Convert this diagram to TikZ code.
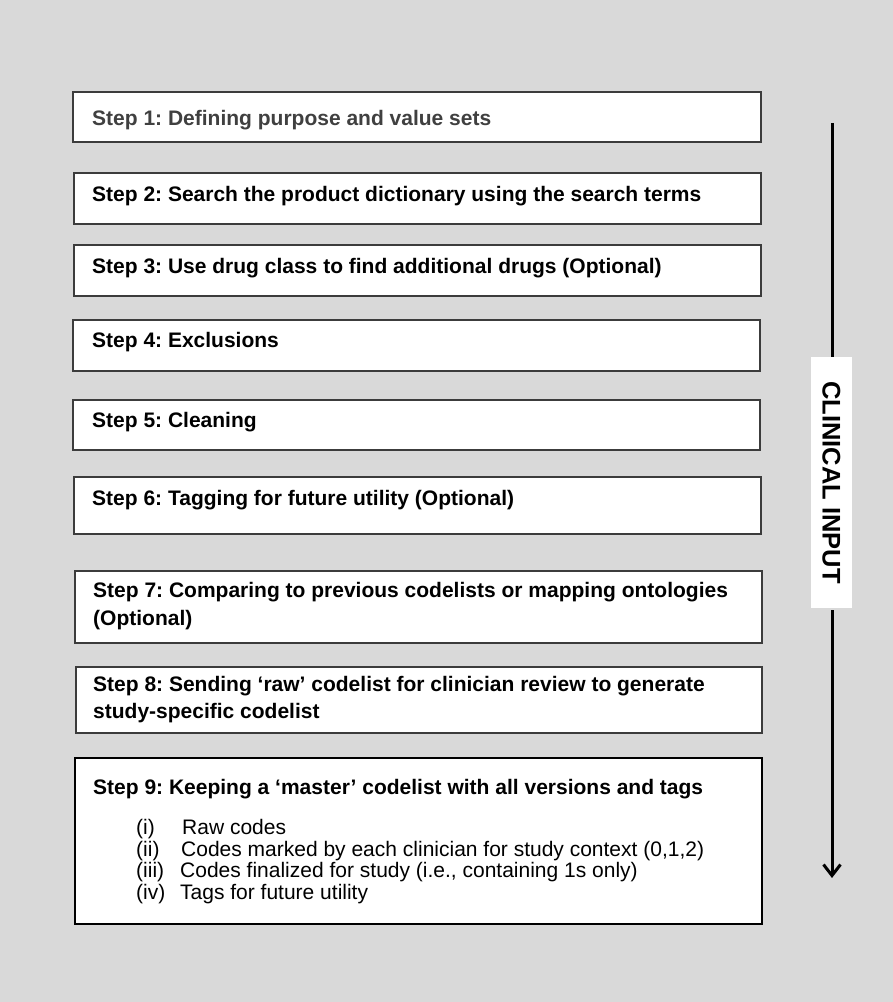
\documentclass[tikz,border=0pt]{standalone}
\usepackage{fontspec}
\setmainfont{Liberation Sans}
\usetikzlibrary{arrows.meta}
\definecolor{bg}{RGB}{217,217,217}
\definecolor{boxline}{RGB}{60,60,60}
\definecolor{greytext}{RGB}{64,64,64}
\tikzset{
  stepbox/.style={draw=boxline, line width=1.3pt, fill=white, inner sep=0pt, outer sep=0pt},
  steptext/.style={anchor=base west, inner sep=0pt, font=\fontsize{21}{25}\selectfont\bfseries},
  itemtext/.style={anchor=base west, inner sep=0pt, font=\fontsize{21}{25}\selectfont},
  flowline/.style={line width=3pt, black}
}
\frenchspacing
\begin{document}
\begin{tikzpicture}[x=1pt,y=1pt]
\useasboundingbox (0,0) rectangle (893,1002);
\fill[bg] (0,0) rectangle (893,1002);
% boxes
\node[stepbox, minimum width=688, minimum height=50, anchor=south west] (b1) at (73,860) {};
\node[stepbox, minimum width=687, minimum height=51, anchor=south west] (b2) at (74,778) {};
\node[stepbox, minimum width=687, minimum height=51, anchor=south west] (b3) at (74,706) {};
\node[stepbox, minimum width=687, minimum height=51, anchor=south west] (b4) at (73,631) {};
\node[stepbox, minimum width=687, minimum height=50, anchor=south west] (b5) at (73,552) {};
\node[stepbox, minimum width=687, minimum height=57, anchor=south west] (b6) at (74,468) {};
\node[stepbox, minimum width=687, minimum height=72, anchor=south west] (b7) at (75,359) {};
\node[stepbox, minimum width=686, minimum height=66, anchor=south west] (b8) at (76,269) {};
\node[stepbox, minimum width=687, minimum height=166, anchor=south west, draw=black] (b9) at (75,78) {};
% step texts
\node[steptext, text=greytext] (t1) at (92,876) {Step 1: Defining purpose and value sets};
\node[steptext] (t2) at (92,800) {Step 2: Search the product dictionary using the search terms};
\node[steptext] (t3) at (92,728) {Step 3: Use drug class to find additional drugs (Optional)};
\node[steptext] (t4) at (92,654) {Step 4: Exclusions};
\node[steptext] (t5) at (92,574) {Step 5: Cleaning};
\node[steptext] (t6) at (92,496) {Step 6: Tagging for future utility (Optional)};
\node[steptext] (t7a) at (93,404) {Step 7: Comparing to previous codelists or mapping ontologies};
\node[steptext] (t7b) at (93,376) {(Optional)};
\node[steptext] (t8a) at (93,310) {Step 8: Sending ‘raw’ codelist for clinician review to generate};
\node[steptext] (t8b) at (93,283) {study-specific codelist};
\node[steptext] (t9) at (93,207) {Step 9: Keeping a ‘master’ codelist with all versions and tags};
% items
\node[itemtext] (n1) at (136,167) {(i)};
\node[itemtext] (i1) at (182,167) {Raw codes};
\node[itemtext] (n2) at (136,145) {(ii)};
\node[itemtext] (i2) at (181,145) {Codes marked by each clinician for study context (0,1,2)};
\node[itemtext] (n3) at (136,124) {(iii)};
\node[itemtext] (i3) at (180,124) {Codes finalized for study (i.e., containing 1s only)};
\node[itemtext] (n4) at (136,102) {(iv)};
\node[itemtext] (i4) at (180,102) {Tags for future utility};
% clinical input arrow
\node[fill=white, minimum width=41, minimum height=251, inner sep=0pt] (lab) at (831.5,519.5) {};
\node[rotate=-90, inner sep=0pt, font=\fontsize{25.5}{30}\selectfont\bfseries] (labtext) at (lab.center) {CLINICAL INPUT};
\coordinate (atop) at (832,879);
\coordinate (abot) at (832,124);
\draw[flowline] (atop) -- (lab.north -| atop);
\draw[flowline, -{Straight Barb[length=11pt, width=17pt, line width=3pt]}] ([yshift=-2pt]lab.south -| atop) -- (abot);
\end{tikzpicture}
\end{document}
